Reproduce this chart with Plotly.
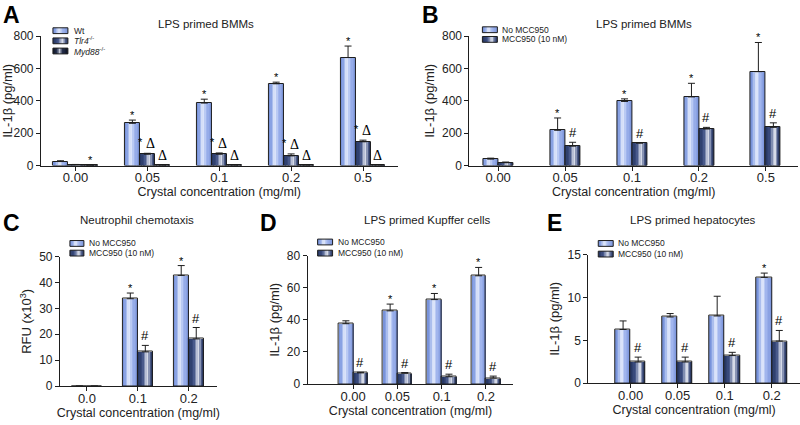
import plotly.graph_objects as go

W, H = 800, 425
FONT = "Liberation Sans, Arial, sans-serif"

# ---------------- data ----------------
CATS_AB = ["0.00", "0.05", "0.1", "0.2", "0.5"]
CATS_C = ["0.0", "0.1", "0.2"]
CATS_DE = ["0.00", "0.05", "0.1", "0.2"]

NAMES_A = ["Wt", "<i>Tlr4</i><sup>-/-</sup>", "<i>Myd88</i><sup>-/-</sup>"]
NAMES_MCC = ["No MCC950", "MCC950 (10 nM)"]

A_WT = [25, 261, 386, 505, 667]
A_WT_ERR = [5, 20, 24, 10, 71]
A_TLR4 = [5, 70, 70, 60, 147]
A_TLR4_ERR = [2, 6, 8, 12, 10]
A_MYD88 = [1, 2, 2, 2, 3]
A_MYD88_ERR = [0.5, 1, 1, 1, 1]
A_WT_SIG = ["", "*", "*", "*", "*"]
A_TLR4_SIG = ["", "*Δ", "*Δ", "*Δ", "*Δ"]
A_MYD88_SIG = ["*", "Δ", "Δ", "Δ", "Δ"]

B_NO = [40, 218, 396, 424, 580]
B_NO_ERR = [6, 76, 16, 84, 180]
B_MCC = [18, 120, 138, 226, 236]
B_MCC_ERR = [4, 24, 4, 10, 28]
B_NO_SIG = ["", "*", "*", "*", "*"]
B_MCC_SIG = ["", "#", "#", "#", "#"]

C_NO = [0, 33.7, 42.7]
C_NO_ERR = [0, 2.2, 3.8]
C_MCC = [0, 13.2, 18.2]
C_MCC_ERR = [0, 2.5, 4.4]
C_NO_SIG = ["", "*", "*"]
C_MCC_SIG = ["", "#", "#"]

D_NO = [37.6, 45.6, 52.6, 67.4]
D_NO_ERR = [1.8, 4.2, 3.8, 5.2]
D_MCC = [7.0, 6.8, 4.6, 3.8]
D_MCC_ERR = [0.4, 0.4, 1.6, 1.2]
D_NO_SIG = ["", "*", "*", "*"]
D_MCC_SIG = ["#", "#", "#", "#"]

E_NO = [6.26, 7.72, 7.84, 12.34]
E_NO_ERR = [1.0, 0.4, 2.3, 0.5]
E_MCC = [2.47, 2.47, 3.22, 4.91]
E_MCC_ERR = [0.57, 0.57, 0.38, 1.24]
E_NO_SIG = ["", "", "", "*"]
E_MCC_SIG = ["#", "#", "#", "#"]

# ---------------- styles ----------------
GRAD_LIGHT = [(0.0, (112, 140, 214)), (0.18, (142, 166, 230)), (0.40, (234, 240, 253)),
              (0.62, (164, 184, 238)), (1.0, (122, 148, 220))]
GRAD_DARK = [(0.0, (36, 52, 94)), (0.33, (62, 80, 132)), (0.63, (228, 232, 242)),
             (0.82, (82, 97, 142)), (1.0, (34, 49, 90))]
GRAD_BLACK = [(0.0, (14, 20, 36)), (0.28, (40, 50, 80)), (0.44, (205, 210, 222)),
              (0.60, (40, 50, 80)), (1.0, (12, 18, 34))]
LINE_C = "#1e1e1e"
NSTRIP = 10


def grad(stops, t):
    for (t0, c0), (t1, c1) in zip(stops[:-1], stops[1:]):
        if t0 <= t <= t1:
            f = (t - t0) / (t1 - t0)
            c = [round(a + (b - a) * f) for a, b in zip(c0, c1)]
            return "rgb(%d,%d,%d)" % tuple(c)
    return "rgb(%d,%d,%d)" % stops[-1][1]


def px(x):
    return x / W


def py(y):
    return 1 - y / H


fig = go.Figure()
annotations = []
shapes = []


def add_series(ax, vals, errs, left, width, stops, sig, sig_font):
    xa, ya = "x" + ax, "y" + ax
    xs = list(range(len(vals)))
    step = width / NSTRIP
    for k in range(NSTRIP):
        off = left + k * step
        w = min(step * 1.4, left + width - off)
        fig.add_trace(go.Bar(
            x=xs, y=vals, offset=off, width=w, xaxis=xa, yaxis=ya,
            marker=dict(color=grad(stops, (k + 0.5) / NSTRIP), line=dict(width=0)),
            showlegend=False, hoverinfo="skip"))
    fig.add_trace(go.Bar(
        x=xs, y=vals, offset=left, width=width, xaxis=xa, yaxis=ya,
        marker=dict(color="rgba(0,0,0,0)", line=dict(color=LINE_C, width=1)),
        error_y=dict(type="data", array=errs, arrayminus=[0] * len(errs), symmetric=False,
                     color=LINE_C, thickness=1, width=3.5),
        showlegend=False))
    xref = "x" + ax
    yref = "y" + ax
    cx = left + width / 2
    star_font = dict(size=11, family=FONT, color="#000")
    delta_font = dict(size=14, family="Liberation Serif, serif", color="#000")
    for i, m in enumerate(sig):
        top = vals[i] + errs[i]
        if m == "*":
            annotations.append(dict(x=i + cx, y=top, xref=xref, yref=yref, text="*",
                                    showarrow=False, yanchor="bottom", yshift=-3,
                                    font=star_font))
        elif m == "#":
            annotations.append(dict(x=i + cx, y=top, xref=xref, yref=yref, text="#",
                                    showarrow=False, yanchor="bottom", yshift=0,
                                    font=dict(size=sig_font, family=FONT, color="#000")))
        elif m == "Δ":
            annotations.append(dict(x=i + cx, y=top, xref=xref, yref=yref, text="Δ",
                                    showarrow=False, yanchor="bottom", yshift=0,
                                    font=delta_font))
        elif m == "*Δ":
            annotations.append(dict(x=i + cx, y=top, xref=xref, yref=yref, text="*",
                                    showarrow=False, yanchor="bottom", yshift=3, xshift=-7,
                                    font=star_font))
            annotations.append(dict(x=i + cx, y=top, xref=xref, yref=yref, text="Δ",
                                    showarrow=False, yanchor="bottom", yshift=0, xshift=3,
                                    font=delta_font))


def add_legend(x0, x1, rows, names, grads, text_x):
    for yc, name, g in zip(rows, names, grads):
        y0, y1 = yc - 3, yc + 3
        step = (x1 - x0) / NSTRIP
        for k in range(NSTRIP):
            shapes.append(dict(type="rect", xref="paper", yref="paper",
                               x0=px(x0 + k * step), x1=px(min(x0 + (k + 1.4) * step, x1)),
                               y0=py(y1), y1=py(y0), line=dict(width=0),
                               fillcolor=grad(g, (k + 0.5) / NSTRIP)))
        shapes.append(dict(type="rect", xref="paper", yref="paper",
                           x0=px(x0), x1=px(x1), y0=py(y1), y1=py(y0),
                           line=dict(color=LINE_C, width=1), fillcolor="rgba(0,0,0,0)"))
        annotations.append(dict(x=px(text_x), y=py(yc), xref="paper", yref="paper",
                                text=name, showarrow=False, xanchor="left", yanchor="middle",
                                font=dict(size=8.5, family=FONT, color="#222")))


def axes(ax, xdom, ydom, xrange, cats, yrange, dtick, ytitle):
    xk, yk = "xaxis" + ax, "yaxis" + ax
    common = dict(showline=True, linecolor=LINE_C, linewidth=1, showgrid=False, zeroline=False,
                  ticks="outside", ticklen=4, tickwidth=1, tickcolor=LINE_C)
    fig.layout[xk] = dict(domain=[px(xdom[0]), px(xdom[1])], range=xrange,
                          tickmode="array", tickvals=list(range(len(cats))), ticktext=cats,
                          anchor="y" + ax, tickfont=dict(size=13, family=FONT, color="#222"),
                          title=dict(text="Crystal concentration (mg/ml)", standoff=2,
                                     font=dict(size=12.5, family=FONT, color="#222")),
                          fixedrange=True, **common)
    try:
        fig.layout[xk].ticklabelstandoff = -4
    except Exception:
        pass
    fig.layout[yk] = dict(domain=[py(ydom[1]), py(ydom[0])], range=yrange, dtick=dtick,
                          anchor="x" + ax, tickfont=dict(size=12, family=FONT, color="#222"),
                          title=dict(text=ytitle, standoff=4,
                                     font=dict(size=13, family=FONT, color="#222")),
                          fixedrange=True, **common)


def title(x, y, text):
    annotations.append(dict(x=px(x), y=py(y), xref="paper", yref="paper", text=text,
                            showarrow=False, xanchor="center", yanchor="middle",
                            font=dict(size=11.5, family=FONT, color="#222")))


def letter(x, y, text):
    annotations.append(dict(x=px(x), y=py(y), xref="paper", yref="paper", text="<b>%s</b>" % text,
                            showarrow=False, xanchor="left", yanchor="middle",
                            font=dict(size=23, family=FONT, color="#000")))


IL = "IL-1β (pg/ml)"

# ---- Panel A ----
axes("", (40, 397), (30, 164), [-0.48, 4.48], CATS_AB, [0, 800], 200, IL)
wA = 0.208
add_series("", A_WT, A_WT_ERR, -1.5 * wA, wA, GRAD_LIGHT, A_WT_SIG, 13)
add_series("", A_TLR4, A_TLR4_ERR, -0.5 * wA, wA, GRAD_DARK, A_TLR4_SIG, 13)
add_series("", A_MYD88, A_MYD88_ERR, 0.5 * wA, wA, GRAD_BLACK, A_MYD88_SIG, 13)
add_legend(52, 67, [24.5, 35, 45.5], NAMES_A, [GRAD_LIGHT, GRAD_DARK, GRAD_BLACK], 71)
title(205, 18, "LPS primed BMMs")
letter(0, 8, "A")

# ---- Panel B ----
axes("2", (469, 798), (30, 164), [-0.43, 4.48], CATS_AB, [0, 800], 200, IL)
wB = 0.224
add_series("2", B_NO, B_NO_ERR, -wB, wB, GRAD_LIGHT, B_NO_SIG, 13)
add_series("2", B_MCC, B_MCC_ERR, 0, wB, GRAD_DARK, B_MCC_SIG, 13)
add_legend(482, 497, [23.5, 33.5], NAMES_MCC, [GRAD_LIGHT, GRAD_DARK], 500)
title(644, 18, "LPS primed BMMs")
letter(420, 8, "B")

# ---- Panel C ----
axes("3", (59, 216), (258, 392), [-0.53, 2.55], CATS_C, [0, 50], 10, "RFU (x10<sup>3</sup>)")
wC = 0.295
add_series("3", C_NO, C_NO_ERR, -wC, wC, GRAD_LIGHT, C_NO_SIG, 13)
add_series("3", C_MCC, C_MCC_ERR, 0, wC, GRAD_DARK, C_MCC_SIG, 13)
add_legend(69, 83, [244.5, 254.5], NAMES_MCC, [GRAD_LIGHT, GRAD_DARK], 86)
title(136, 220, "Neutrophil chemotaxis")
letter(0, 223, "C")

# ---- Panel D ----
axes("4", (307, 513), (257, 390), [-1.03, 3.62], CATS_DE, [0, 80], 20, IL)
wD = 0.33
add_series("4", D_NO, D_NO_ERR, -wD, wD, GRAD_LIGHT, D_NO_SIG, 13)
add_series("4", D_MCC, D_MCC_ERR, 0, wD, GRAD_DARK, D_MCC_SIG, 13)
add_legend(317, 332, [243, 254.5], NAMES_MCC, [GRAD_LIGHT, GRAD_DARK], 335)
title(427, 220, "LPS primed Kupffer cells")
letter(257, 223, "D")

# ---- Panel E ----
axes("5", (588, 800), (256, 389), [-0.9, 3.6], CATS_DE, [0, 15], 5, IL)
wE = 0.32
add_series("5", E_NO, E_NO_ERR, -wE, wE, GRAD_LIGHT, E_NO_SIG, 13)
add_series("5", E_MCC, E_MCC_ERR, 0, wE, GRAD_DARK, E_MCC_SIG, 13)
add_legend(598, 613, [244.5, 255.5], NAMES_MCC, [GRAD_LIGHT, GRAD_DARK], 616)
title(693, 220, "LPS primed hepatocytes")
letter(545, 223, "E")

fig.update_layout(
    width=W, height=H, margin=dict(l=0, r=0, t=0, b=0),
    paper_bgcolor="white", plot_bgcolor="rgba(0,0,0,0)",
    barmode="overlay", bargap=0, showlegend=False,
    annotations=annotations, shapes=shapes,
    font=dict(family=FONT, color="#222"),
)

fig.write_html("out.html", config={"displayModeBar": False},
               post_script="document.body.style.margin='0';document.body.style.overflow='hidden';")
